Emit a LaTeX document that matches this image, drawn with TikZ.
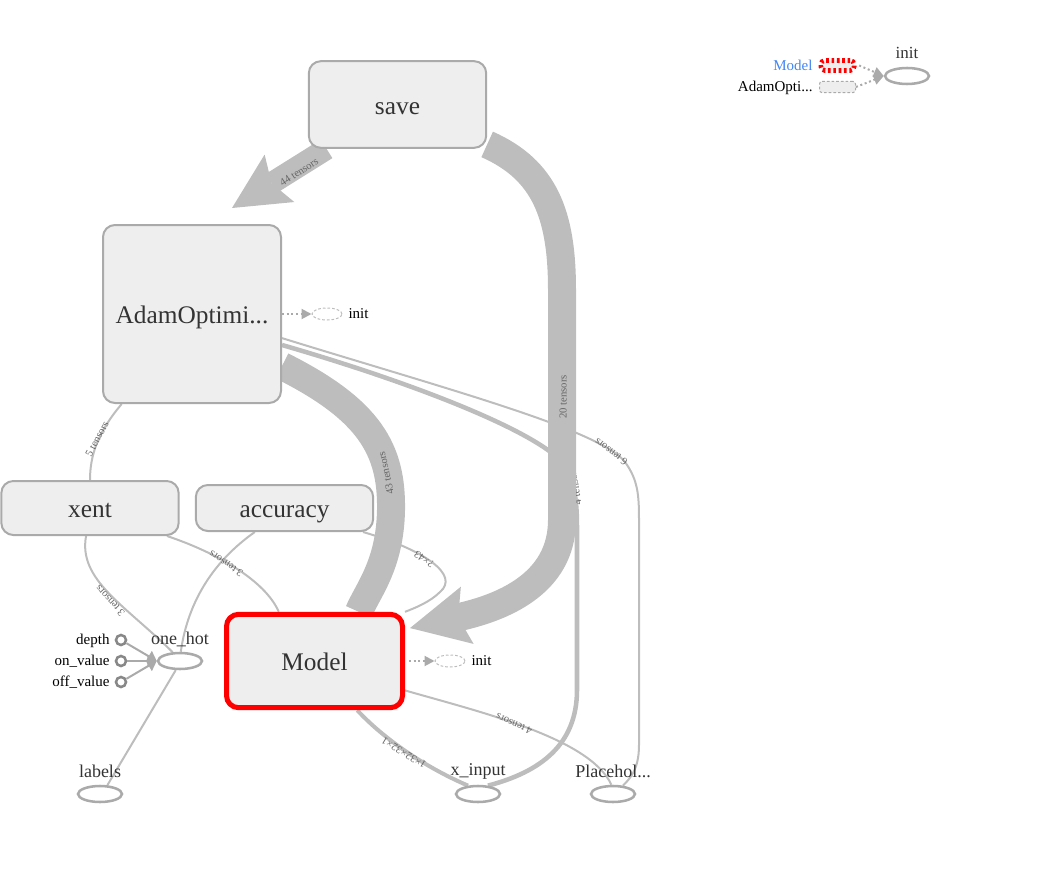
\documentclass[tikz,border=0pt]{standalone}
\usepackage{fontspec}
\setmainfont{Liberation Serif}
\usetikzlibrary{arrows.meta,shapes.geometric,calc,backgrounds}

\definecolor{edgegray}{HTML}{BDBDBD}
\definecolor{nodefill}{HTML}{EEEEEE}
\definecolor{nodeline}{HTML}{AAAAAA}
\definecolor{constline}{HTML}{888888}
\definecolor{textgray}{HTML}{333333}
\definecolor{labelgray}{HTML}{666666}
\definecolor{legendblue}{HTML}{4285F4}

\tikzset{every picture/.style={line width=0.75pt}}
\tikzset{
  opbox/.style={draw=nodeline, fill=nodefill, line width=1.5pt, rounded corners=9pt, inner sep=0pt, text=textgray, font=\fontsize{19}{22}\selectfont, text height=17pt, text depth=2.6pt},
  selbox/.style={opbox, draw=red, line width=3.75pt},
  phnode/.style={ellipse, draw=nodeline, line width=1.9pt, fill=white, minimum width=33pt, minimum height=12pt, inner sep=0pt},
  initnode/.style={ellipse, draw=edgegray, line width=0.75pt, dash pattern=on 2pt off 1.5pt, minimum width=22.5pt, minimum height=9pt, inner sep=0pt},
  constnode/.style={circle, draw=constline, line width=1.9pt, fill=white, minimum size=7.5pt, inner sep=0pt},
  nametext/.style={text=textgray, font=\fontsize{13.5}{15}\selectfont, inner sep=0pt},
  smalltext/.style={text=black, font=\fontsize{11.25}{13}\selectfont, inner sep=0pt, text height=8.5pt, text depth=2pt},
  edgelabel/.style={text=labelgray, font=\fontsize{8}{9}\selectfont, inner sep=0pt},
  flow/.style={draw=edgegray, line width=#1},
  flow/.default=1.5pt,
  bigtip/.style={-{Stealth[length=#1, width=#1, inset=7pt, line width=0pt]}},
  ctrl/.style={draw=nodeline, dotted, line width=1.5pt, -{Triangle[length=7.5pt, width=7.5pt]}},
  constedge/.style={draw=nodeline, line width=1.5pt, -{Triangle[length=7pt, width=9pt]}},
}

\begin{document}
\begin{tikzpicture}[x=0.75pt,y=0.75pt,yscale=-1,xscale=1]
\useasboundingbox (0,0) rectangle (1050,881);

%Shape: Rounded Rectangles
\node[opbox, minimum width=133pt, minimum height=65pt] (save) at (397.5,104.5) {save};
\node[opbox, minimum width=133.5pt, minimum height=133.5pt] (adam) at (192,314) {AdamOptimi...};
\node[opbox, minimum width=133pt, minimum height=40.5pt] (xent) at (90,508) {xent};
\node[opbox, minimum width=133pt, minimum height=34.5pt] (accuracy) at (284.5,508) {accuracy};
\node[selbox, minimum width=132pt, minimum height=70pt] (model) at (314.5,661) {Model};

%Shape: Ellipses
\node[phnode] (onehot) at (180,661) {};
\node[phnode] (labels) at (100,794) {};
\node[phnode] (xinput) at (478,794) {};
\node[phnode] (placeholder) at (613,794) {};
\node[initnode] (adaminit) at (327,314) {};
\node[initnode] (modelinit) at (450,661) {};

%Shape: Circles
\node[constnode] (depth) at (121,640) {};
\node[constnode] (onvalue) at (121,661) {};
\node[constnode] (offvalue) at (121,682) {};

% Text Node
\node[nametext] (onehotname) at (180,639) {one\_hot};
\node[nametext] (labelsname) at (100,771) {labels};
\node[nametext] (xinputname) at (478,771) {x\_input};
\node[nametext] (placeholdername) at (613,771) {Placehol...};
\node[smalltext, anchor=east] (depthname) at (110,640) {depth};
\node[smalltext, anchor=east] (onvaluename) at (110,661) {on\_value};
\node[smalltext, anchor=east] (offvaluename) at (110,682) {off\_value};
\node[smalltext, anchor=west] (adaminitname) at (348,314) {init};
\node[smalltext, anchor=west] (modelinitname) at (471,661) {init};

\begin{scope}[on background layer]
%Curve Lines
\draw[flow] (adam.-15) .. controls (450,390) and (600,430) .. (625,462) .. controls (638,480) and (639,495) .. (639,520) -- (639,745) .. controls (639,772) and (628,780) .. (placeholder.40);
\draw[flow=3.4pt] (adam.-19) .. controls (420,385) and (530,430) .. (560,460) .. controls (575,478) and (577,500) .. (577,530) -- (577,690) .. controls (577,745) and (540,772) .. (xinput.40);
\draw[flow] (adam.-128) .. controls (98,432) and (90,455) .. (xent.north);
\draw[flow] (xent.-98) .. controls (78,580) and (125,605) .. (onehot.130);
\draw[flow] (xent.-20) .. controls (215,552) and (265,580) .. (model.126);
\draw[flow] (accuracy.-141) .. controls (215,560) and (188,600) .. (onehot.85);
\draw[flow] (onehot.-115) -- (labels.50);
\draw[flow] (accuracy.-17) .. controls (425,550) and (460,575) .. (440,592) .. controls (430,602) and (415,608) .. (model.north east);
\draw[flow=3pt] (model.-49) .. controls (380,735) and (420,765) .. (xinput.140);
\draw[flow] (model.-18) .. controls (480,712) and (590,738) .. (placeholder.100);
\node[edgelabel, rotate=100] (l4a) at (575,486) {4 tensors};
%Thick Bands
\draw[flow=16.5pt, bigtip=42pt] (save.-148) -- ($(adam.north)+(40,-16)$);
\draw[flow=21pt, bigtip=44pt] (save.-24) .. controls (545,170) and (562,215) .. (562,290) -- (562,520) .. controls (562,585) and (500,608) .. ($(model.20)+(5,0)$);
\draw[flow=21pt] (adam.-30) .. controls (370,410) and (392,450) .. (391,510) .. controls (390,565) and (368,590) .. (model.48);
\end{scope}

%Straight Lines
\draw[ctrl] (adam.east) -- (adaminit.west);
\draw[ctrl] ([xshift=3pt]model.east) -- (modelinit.west);
\draw[constedge] (depth) -- (onehot.west);
\draw[constedge] (onvalue) -- (onehot.west);
\draw[constedge] (offvalue) -- (onehot.west);

% Edge Labels
\node[edgelabel, rotate=33] (l44) at (299,172) {44 tensors};
\node[edgelabel, rotate=90] (l20) at (563,397) {20 tensors};
\node[edgelabel, rotate=102] (l43) at (386,473) {43 tensors};
\node[edgelabel, rotate=143] (l6) at (611,452) {6 tensors};
\node[edgelabel, rotate=62] (l5) at (97,439) {5 tensors};
\node[edgelabel, rotate=132] (l3a) at (110,601) {3 tensors};
\node[edgelabel, rotate=147] (l3b) at (226,564) {3 tensors};
\node[edgelabel, rotate=145] (lq43) at (424,559) {?×43};
\node[edgelabel, rotate=149] (l1x) at (404,753) {1×32×32×1};
\node[edgelabel, rotate=157] (l4b) at (514,724) {4 tensors};

% Legend
\node[smalltext, text=legendblue, anchor=east] (legmodelname) at (813,66) {Model};
\node[smalltext, anchor=east] (legadamname) at (813,87) {AdamOpti...};
\node[draw=red, fill=nodefill, line width=3.5pt, dash pattern=on 2pt off 2pt, rounded corners=3pt, minimum width=25pt, minimum height=7.5pt, inner sep=0pt] (legmodel) at (837.5,65.5) {};
\node[draw=nodeline, fill=nodefill, line width=0.75pt, dash pattern=on 2pt off 1.5pt, rounded corners=2pt, minimum width=27pt, minimum height=8.5pt, inner sep=0pt] (legadam) at (837.5,87) {};
\node[phnode] (leginit) at (907,76) {};
\node[nametext, font=\fontsize{12.75}{14}\selectfont] (leginitname) at (907,53) {init};
\draw[ctrl] ([xshift=2pt]legmodel.east) -- (leginit.west);
\draw[ctrl] (legadam.east) -- (leginit.west);

\end{tikzpicture}
\end{document}
